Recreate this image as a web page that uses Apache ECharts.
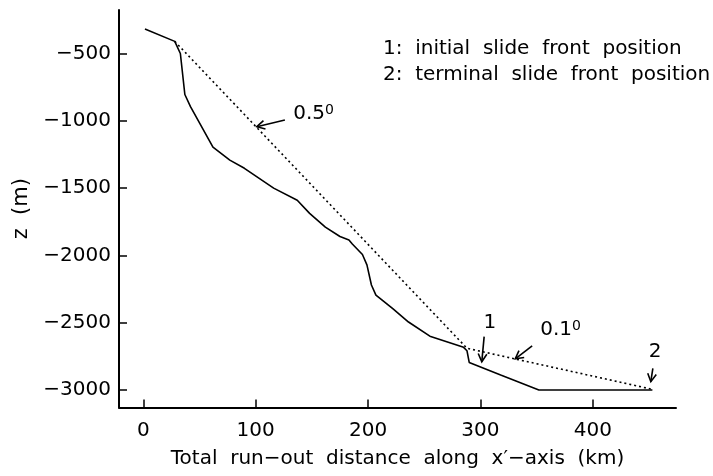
<!DOCTYPE html>
<html>
<head>
<meta charset="utf-8">
<script src="https://cdn.jsdelivr.net/npm/echarts@6/dist/echarts.min.js"></script>
<style>
html,body{margin:0;padding:0;background:#fff;}
#chart{width:713px;height:476px;}
</style>
</head>
<body>
<div id="chart"></div>
<script>
// Bed profile (solid line): distance (km), depth z (m)
const profileX = [1.5, 28, 33, 37, 42, 62, 77, 90, 116, 137, 148, 162, 175, 183, 186, 195, 199, 203, 207, 222, 236, 255, 285, 288, 290, 318, 352, 453];
const profileZ = [-318, -410, -500, -805, -895, -1195, -1292, -1353, -1500, -1590, -1688, -1790, -1860, -1885, -1915, -1993, -2070, -2220, -2295, -2395, -2495, -2600, -2683, -2708, -2795, -2888, -3000, -3000];
// Dotted slopes (0.5 deg and 0.1 deg)
const slopeX = [28, 288, 453];
const slopeZ = [-410, -2690, -2995];
// Tick labels
const xTicks = [0, 100, 200, 300, 400];
const yTicks = [-3000, -2500, -2000, -1500, -1000, -500];
// Annotation arrows: start x, start z, tip x, tip z
const arrowStartX = [126, 346, 303.3, 453.4];
const arrowStartZ = [-994, -2673, -2604, -2839];
const arrowTipX = [101, 331, 301.2, 451.6];
const arrowTipZ = [-1044, -2768, -2790, -2938];
// Annotation labels ({s|..} = superscript)
const annotText = ['0.5{s|0}', '0.1{s|0}', '1', '2'];
const annotX = [133.4, 353.2, 308.3, 455.5];
const annotZ = [-949, -2554, -2498, -2715];
const annotAlign = ['left', 'left', 'center', 'center'];
const noteLines = ['1:  initial  slide  front  position', '2:  terminal  slide  front  position'];

const FONT = 'DejaVu Sans';
const chart = echarts.init(document.getElementById('chart'), null, {renderer: 'canvas'});

const arrowData = arrowStartX.map((v, i) => [v, arrowStartZ[i], arrowTipX[i], arrowTipZ[i]]);
const annotData = annotX.map((v, i) => [v, annotZ[i], i]);

const option = {
  animation: false,
  backgroundColor: '#fff',
  title: {
    text: noteLines.join('\n'),
    left: 378, top: 31,
    textStyle: {fontFamily: FONT, fontSize: 20, fontWeight: 'normal', color: '#000', lineHeight: 26}
  },
  grid: {left: 119, right: 37, top: 10, bottom: 68.5},
  xAxis: {
    type: 'value', min: -21.6, max: 474,
    name: 'Total  run\u2212out  distance  along  x\u2032\u2212axis  (km)',
    nameLocation: 'middle', nameGap: 41,
    nameTextStyle: {fontFamily: FONT, fontSize: 20, color: '#000'},
    axisLine: {show: true, onZero: false, lineStyle: {color: '#000', width: 2}},
    axisTick: {show: true, inside: true, length: 8, customValues: xTicks, lineStyle: {color: '#000', width: 1.5}},
    axisLabel: {customValues: xTicks, margin: 13, fontFamily: FONT, fontSize: 20, color: '#000'},
    splitLine: {show: false}
  },
  yAxis: {
    type: 'value', min: -3130, max: -177,
    name: 'z  (m)',
    nameLocation: 'middle', nameGap: 81, nameRotate: 90,
    nameTextStyle: {fontFamily: FONT, fontSize: 21, color: '#000'},
    axisLine: {show: true, onZero: false, lineStyle: {color: '#000', width: 2}},
    axisTick: {show: true, inside: true, length: 8, customValues: yTicks, lineStyle: {color: '#000', width: 1.5}},
    axisLabel: {customValues: yTicks, margin: 8, fontFamily: FONT, fontSize: 20, color: '#000',
      formatter: v => String(v).replace('-', '\u2212')},
    splitLine: {show: false}
  },
  series: [
    {
      type: 'line', name: 'profile',
      data: profileX.map((v, i) => [v, profileZ[i]]),
      symbol: 'none', lineStyle: {color: '#000', width: 1.6}, z: 3
    },
    {
      type: 'line', name: 'slope',
      data: slopeX.map((v, i) => [v, slopeZ[i]]),
      symbol: 'none', lineStyle: {color: '#000', width: 1.6, type: [2, 3]}, z: 2
    },
    {
      type: 'custom', name: 'arrows', clip: false,
      data: arrowData,
      renderItem: function (params, api) {
        const p1 = api.coord([api.value(0), api.value(1)]);
        const p2 = api.coord([api.value(2), api.value(3)]);
        const ang = Math.atan2(p2[1] - p1[1], p2[0] - p1[0]);
        const L = 9, a = 0.5;
        const h1 = [p2[0] - L * Math.cos(ang - a), p2[1] - L * Math.sin(ang - a)];
        const h2 = [p2[0] - L * Math.cos(ang + a), p2[1] - L * Math.sin(ang + a)];
        return {
          type: 'group',
          children: [
            {type: 'line', shape: {x1: p1[0], y1: p1[1], x2: p2[0], y2: p2[1]}, style: {stroke: '#000', lineWidth: 1.6}},
            {type: 'polyline', shape: {points: [h1, p2, h2]}, style: {stroke: '#000', fill: null, lineWidth: 1.6}}
          ]
        };
      }
    },
    {
      type: 'custom', name: 'labels', clip: false,
      data: annotData,
      renderItem: function (params, api) {
        const p = api.coord([api.value(0), api.value(1)]);
        const i = api.value(2);
        return {
          type: 'text', x: p[0], y: p[1],
          style: {text: annotText[i], fontFamily: FONT, fontSize: 20, fill: '#000',
            align: annotAlign[i], verticalAlign: 'middle', lineHeight: 22,
            rich: {s: {fontFamily: FONT, fontSize: 14, lineHeight: 14, verticalAlign: 'top', fill: '#000'}}}
        };
      }
    }
  ]
};
chart.setOption(option);
</script>
</body>
</html>
